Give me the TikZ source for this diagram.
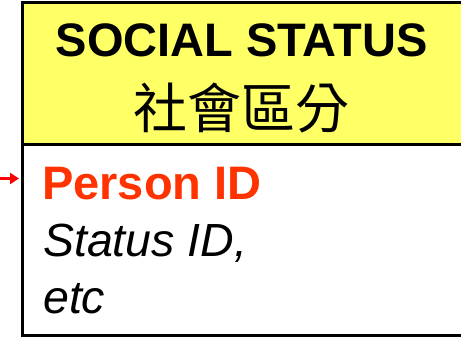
\documentclass[tikz,border=0pt]{standalone}
\usepackage{fontspec}
\setmainfont{Liberation Sans}
\newfontfamily\cjkfont{Noto Sans CJK TC}
\usetikzlibrary{arrows.meta}
\definecolor{boxyellow}{RGB}{255,255,102}
\definecolor{keyred}{RGB}{255,51,0}
\definecolor{arrowred}{RGB}{255,0,0}
\tikzset{
  entitybox/.style={draw=black, line width=3pt, inner sep=0pt, anchor=north west, minimum width=449.5pt},
  titletext/.style={inner sep=0pt, anchor=base, font=\bfseries\fontsize{47}{47}\selectfont},
  cjktext/.style={inner sep=0pt, anchor=base, font=\cjkfont\fontsize{54}{54}\selectfont},
  keytext/.style={inner sep=0pt, anchor=base west, text=keyred, font=\bfseries\fontsize{47}{47}\selectfont},
  attrtext/.style={inner sep=0pt, anchor=base west, font=\itshape\fontsize{46.5}{46.5}\selectfont},
  fkarrow/.style={draw=arrowred, fill=arrowred, line width=3.5pt, -{Triangle[length=9pt,width=11pt]}, shorten >=1.5pt}
}
\begin{document}
\begin{tikzpicture}[x=1pt,y=-1pt]
\useasboundingbox (0,0) rectangle (461,342);
\clip (0,0) rectangle (461,342);
\node[entitybox, fill=boxyellow, minimum height=142pt] (head) at (20.5,1.5) {};
\node[entitybox, fill=white, minimum height=190.8pt] (body) at (20.5,143.5) {};
\node[titletext] (title) at (241.5,57) {SOCIAL STATUS};
\node[cjktext] (cjk) at (241,129) {社會區分};
\node[keytext] (key) at (42,200) {Person ID};
\node[attrtext] (attr) at (43,257) {Status ID,};
\node[attrtext] (etc) at (43,313) {etc};
\coordinate (src) at (0,178.5);
\draw[fkarrow] (src) -- (src -| body.west);
\end{tikzpicture}
\end{document}
